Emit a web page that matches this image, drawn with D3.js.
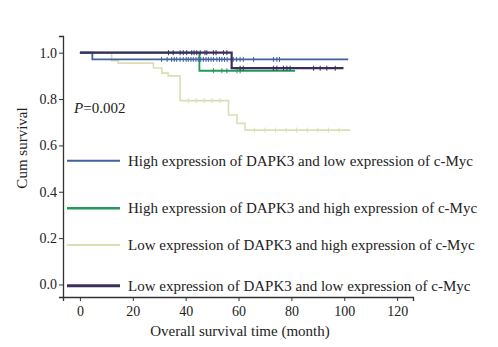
<!DOCTYPE html>
<html>
<head>
<meta charset="utf-8">
<script src="https://cdn.jsdelivr.net/npm/d3@7"></script>
<style>
  body { margin: 0; background: #fff; }
  svg text { font-family: "Liberation Serif", "Times New Roman", serif; fill: #222; }
</style>
</head>
<body>
<div id="chart"></div>
<script>
// Kaplan-Meier curves: [month, cumulative survival] step points
const groups = [
  'High expression of DAPK3 and low expression of c-Myc',
  'High expression of DAPK3 and high expression of c-Myc',
  'Low expression of DAPK3 and high expression of c-Myc',
  'Low expression of DAPK3 and low expression of c-Myc'
];
const colors = ['#40609e', '#24985a', '#dcdeb4', '#3b2e5c'];

const blueSteps   = [[0, 1], [4.7, 0.971], [101.5, 0.971]];
const greenSteps  = [[0, 1], [45.2, 0.922], [81.4, 0.922]];
const beigeSteps  = [[0, 1], [12, 0.965], [14.5, 0.955], [27.8, 0.934], [31, 0.912],
                     [33.4, 0.90], [37.9, 0.793], [56.2, 0.731], [59.4, 0.695],
                     [62.5, 0.666], [102.3, 0.666]];
const purpleSteps = [[0, 1], [57.4, 0.933], [99.7, 0.933]];

// censored observations (months)
const blueCensor   = [30.9, 33, 34.7, 35.7, 36.6, 37.9, 39.1, 40.2, 41, 42, 42.9, 43.9, 44.8,
                      45.7, 46.7, 47.7, 48.6, 49.6, 50.5, 51.8, 52.8, 53.7, 54.7, 55.7, 58,
                      59.3, 60.6, 61.8, 65.7, 73.2, 74.5, 75.5];
const greenCensor  = [50.5, 53.7, 55.6, 59.4, 60.6];
const beigeCensor  = [41, 44, 47, 50, 53, 66, 70, 74, 78, 82, 86, 90, 94, 98];
const purpleCensor = [33.5, 35.3, 37.9, 39.1, 40.4, 42.3, 43.2, 44.2, 45.5, 47.3, 48, 50.5,
                      51.5, 54.3, 55.6, 60.6, 61.8, 73.2, 74.5, 77, 78.3, 79.5, 88.4, 90.9,
                      93.4, 96.6];

const xTicks = [0, 20, 40, 60, 80, 100, 120];
const yTicks = [0, 0.2, 0.4, 0.6, 0.8, 1.0];

const W = 498, H = 347;
const svg = d3.select('#chart').append('svg').attr('width', W).attr('height', H);

const x = d3.scaleLinear().domain([-6.4, 126]).range([63, 413]);
const y = d3.scaleLinear().domain([-0.054, 1.072]).range([297, 36]);

// axes
const ax = svg.append('g').attr('transform', `translate(0,297)`)
  .call(d3.axisBottom(x).tickValues(xTicks).tickSize(4).tickPadding(5).tickFormat(d3.format('d')));
const ay = svg.append('g').attr('transform', `translate(63,0)`)
  .call(d3.axisLeft(y).tickValues(yTicks).tickSize(4).tickPadding(2).tickFormat(d3.format('.1f')));
[ax, ay].forEach(a => {
  a.select('.domain').attr('stroke', '#333').attr('stroke-width', 1.3);
  a.selectAll('.tick line').attr('stroke', '#333').attr('stroke-width', 1);
  a.selectAll('.tick text').attr('font-size', 14).attr('fill', '#222')
    .attr('font-family', '"Liberation Serif", serif');
});

svg.append('text').attr('x', 240).attr('y', 336).attr('text-anchor', 'middle')
  .attr('font-size', 15).text('Overall survival time (month)');
svg.append('text').attr('transform', 'translate(27,148) rotate(-90)')
  .attr('text-anchor', 'middle').attr('font-size', 15).text('Cum survival');

const pt = svg.append('text').attr('x', 74).attr('y', 113).attr('font-size', 15);
pt.append('tspan').attr('font-style', 'italic').text('P');
pt.append('tspan').text('=0.002');

// curves
const line = d3.line().x(d => x(d[0])).y(d => y(d[1])).curve(d3.curveStepAfter);
const survAt = (steps, t) => {
  const i = d3.bisector(d => d[0]).right(steps, t) - 1;
  return steps[Math.max(0, i)][1];
};

const series = [
  { steps: beigeSteps,  censor: beigeCensor,  color: colors[2], w: 1.6 },
  { steps: greenSteps,  censor: greenCensor,  color: colors[1], w: 1.8 },
  { steps: blueSteps,   censor: blueCensor,   color: colors[0], w: 1.8 },
  { steps: purpleSteps, censor: purpleCensor, color: colors[3], w: 2.2 }
];

series.forEach(s => {
  svg.append('path').datum(s.steps).attr('d', line)
    .attr('fill', 'none').attr('stroke', s.color).attr('stroke-width', s.w);
  svg.selectAll(null).data(s.censor).join('line')
    .attr('x1', d => x(d)).attr('x2', d => x(d))
    .attr('y1', d => y(survAt(s.steps, d)) - 2.5)
    .attr('y2', d => y(survAt(s.steps, d)) + 2.5)
    .attr('stroke', s.color).attr('stroke-width', 1);
});

// legend
const legY = [160.7, 208.3, 245, 285.7];
const legW = [2, 2.5, 2, 3];
groups.forEach((name, i) => {
  svg.append('line').attr('x1', 67).attr('x2', 120).attr('y1', legY[i]).attr('y2', legY[i])
    .attr('stroke', colors[i]).attr('stroke-width', legW[i]);
  svg.append('text').attr('x', 128).attr('y', legY[i] + 5)
    .attr('font-size', 15).text(name);
});
</script>
</body>
</html>
